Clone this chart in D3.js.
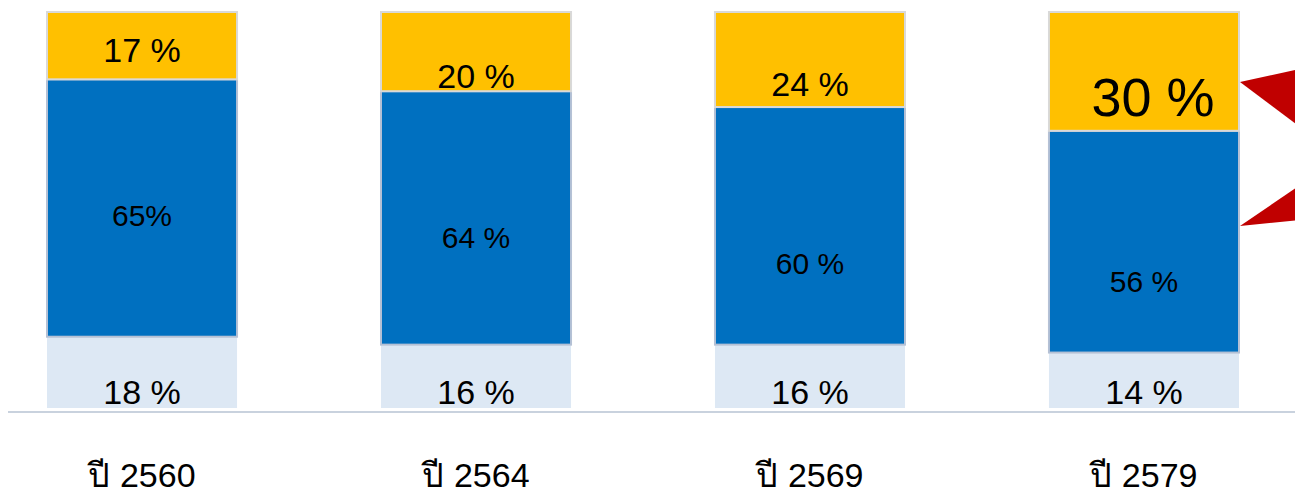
<!DOCTYPE html>
<html>
	<head>
		<meta charset = "utf-8">
		<script src = "https://cdn.jsdelivr.net/npm/d3@7/dist/d3.min.js"></script>
		<style>
			body { margin: 0; background: #ffffff; }
			svg { display: block; font-family: "Liberation Sans", Arial, sans-serif; }
		</style>
	</head>
	<body>
		<script>
			"use strict";

			// data
			var years = ["ปี 2560", "ปี 2564", "ปี 2569", "ปี 2579"];
			var young = [18, 16, 16, 14];
			var working = [65, 64, 60, 56];
			var elderly = [17, 20, 24, 30];
			var youngLabels = ["18 %", "16 %", "16 %", "14 %"];
			var workingLabels = ["65%", "64 %", "60 %", "56 %"];
			var elderlyLabels = ["17 %", "20 %", "24 %", "30 %"];

			// layout only
			var W = 1295, H = 494;
			var midNudge = [7, 19, 37, 39];
			var topNudge = [-10, 4, -4, 0];

			var svg = d3.select("body")
						.append("svg")
						.attr("width", W)
						.attr("height", H);

			var x = d3.scaleBand()
						.domain(years)
						.range([-25, 1311])
						.paddingInner(0.431)
						.paddingOuter(0.2156);

			var y = d3.scaleLinear()
						.domain([0, 100])
						.range([408, 12]);

			var rows = years.map(function(d, i){
				return {year: d, young: young[i], working: working[i], elderly: elderly[i], i: i};
			});

			var stack = d3.stack().keys(["young", "working", "elderly"])(rows);

			var fills = {young: "#dde8f4", working: "#0070c0", elderly: "#ffc000"};
			var strokes = {young: "none", working: "#b5c1d5", elderly: "#d9d9d9"};

			var layer = svg.selectAll("g.layer").data(stack).enter().append("g")
							.attr("class", "layer");

			layer.selectAll("rect").data(function(d){ return d.map(function(p){ p.key = d.key; return p; }); })
				.enter().append("rect")
				.attr("x", function(d){ return x(d.data.year); })
				.attr("y", function(d){ return y(d[1]); })
				.attr("width", x.bandwidth())
				.attr("height", function(d){ return y(d[0]) - y(d[1]); })
				.attr("fill", function(d){ return fills[d.key]; })
				.attr("stroke", function(d){ return strokes[d.key]; })
				.attr("stroke-width", 2);

			// axis baseline
			svg.append("line")
				.attr("x1", 8)
				.attr("x2", W)
				.attr("y1", 412)
				.attr("y2", 412)
				.attr("stroke", "#c9d2de")
				.attr("stroke-width", 2);

			var xAxis = svg.append("g")
							.attr("transform", "translate(0,412)")
							.call(d3.axisBottom(x).tickSize(0).tickPadding(0));
			xAxis.select(".domain").remove();
			xAxis.selectAll("text")
				.attr("dy", null)
				.attr("y", 75)
				.attr("font-size", 34)
				.attr("font-family", "\"Liberation Sans\", Arial, sans-serif")
				.attr("fill", "#000");

			// bottom labels
			svg.selectAll("text.young").data(rows).enter().append("text")
				.attr("class", "young")
				.attr("x", function(d){ return x(d.year) + x.bandwidth() / 2; })
				.attr("y", function(d){ return y(0) - 4; })
				.attr("text-anchor", "middle")
				.attr("font-size", 34)
				.text(function(d, i){ return youngLabels[i]; });

			// middle labels
			svg.selectAll("text.working").data(rows).enter().append("text")
				.attr("class", "working")
				.attr("x", function(d){ return x(d.year) + x.bandwidth() / 2; })
				.attr("y", function(d, i){ return (y(d.young) + y(d.young + d.working)) / 2 + 11 + midNudge[i]; })
				.attr("text-anchor", "middle")
				.attr("font-size", 30)
				.text(function(d, i){ return workingLabels[i]; });

			// top labels
			svg.selectAll("text.elderly").data(rows).enter().append("text")
				.attr("class", "elderly")
				.attr("x", function(d, i){ return x(d.year) + x.bandwidth() / 2 + (i === 3 ? 9 : 0); })
				.attr("y", function(d, i){ return y(d.young + d.working) - (i === 3 ? 15 : 7) + topNudge[i]; })
				.attr("text-anchor", "middle")
				.attr("font-size", function(d, i){ return i === 3 ? 54 : 34; })
				.text(function(d, i){ return elderlyLabels[i]; });

			// red callout pointers at the last bar
			var ax = x(years[3]) + x.bandwidth() + 1;
			svg.append("path")
				.attr("d", "M" + ax + ",82 L" + (ax + 60) + ",69 L" + (ax + 60) + ",127 Z")
				.attr("fill", "#c00000");
			svg.append("path")
				.attr("d", "M" + ax + ",226 L" + (ax + 60) + ",185 L" + (ax + 60) + ",220 Z")
				.attr("fill", "#c00000");
		</script>
	</body>
</html>
